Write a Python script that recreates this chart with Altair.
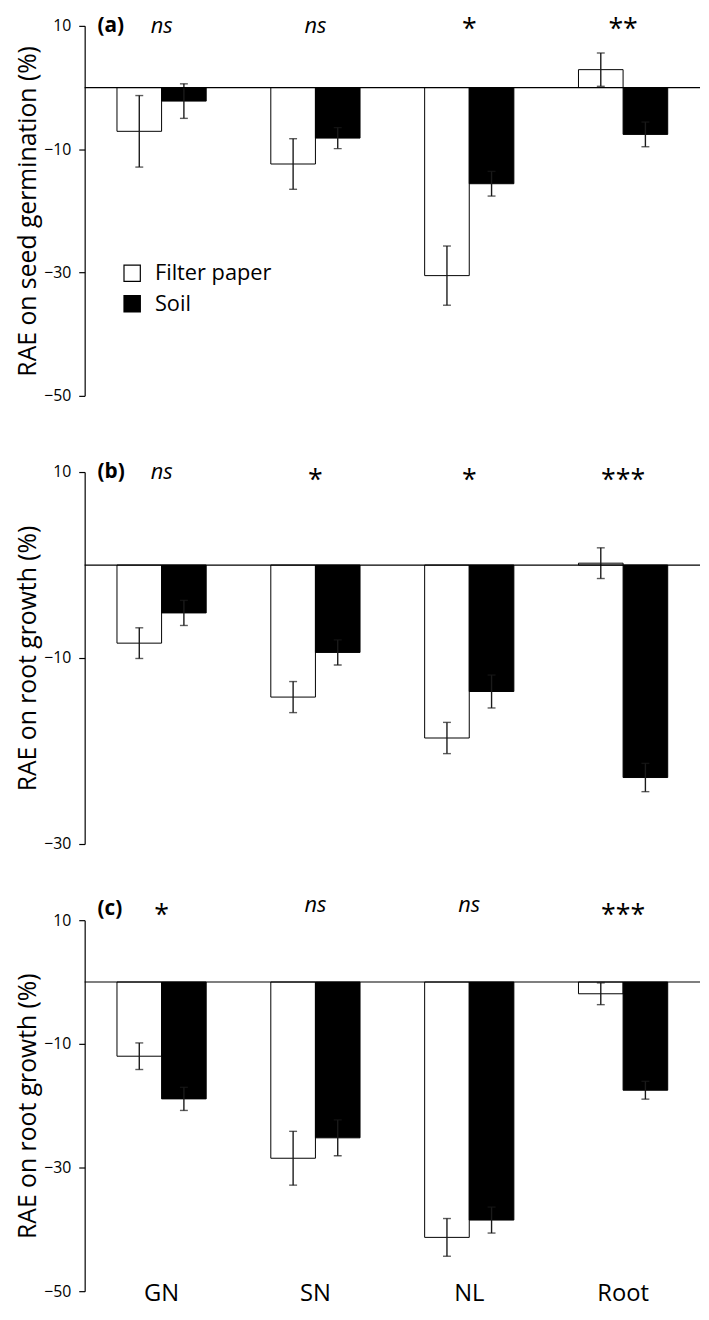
import altair as alt
import pandas as pd

categories = ["GN", "SN", "NL", "Root"]
series = ["Filter paper", "Soil"]

# Panel (a): RAE on seed germination
a_filter = [-7.1, -12.4, -30.5, 2.9]
a_filter_se = [5.8, 4.1, 4.8, 2.7]
a_soil = [-2.2, -8.2, -15.6, -7.6]
a_soil_se = [2.8, 1.7, 2.0, 2.0]
a_sig = ["ns", "ns", "*", "**"]

# Panel (b): RAE on root growth
b_filter = [-8.4, -14.2, -18.6, 0.2]
b_filter_se = [1.65, 1.67, 1.68, 1.65]
b_soil = [-5.15, -9.4, -13.6, -22.85]
b_soil_se = [1.35, 1.35, 1.77, 1.52]
b_sig = ["ns", "*", "*", "***"]

# Panel (c): RAE on root growth
c_filter = [-12.0, -28.5, -41.3, -1.9]
c_filter_se = [2.15, 4.35, 3.05, 1.76]
c_soil = [-18.9, -25.2, -38.5, -17.5]
c_soil_se = [1.87, 2.9, 2.1, 1.44]
c_sig = ["*", "ns", "ns", "***"]

FONT = "Open Sans"


def make_df(f, fse, s, sse):
    rows = []
    for i, c in enumerate(categories):
        rows.append({"cat": c, "series": series[0], "value": f[i],
                     "lo": f[i] - fse[i], "hi": f[i] + fse[i]})
        rows.append({"cat": c, "series": series[1], "value": s[i],
                     "lo": s[i] - sse[i], "hi": s[i] + sse[i]})
    return pd.DataFrame(rows)


def panel(f, fse, s, sse, sig, ymin, yticks, title, letter, height,
          show_legend, dys, show_xlabels):
    letter_dy, ns_dy, star_dy = dys
    df = make_df(f, fse, s, sse)
    sig_df = pd.DataFrame({"cat": categories, "sig": sig})
    x = alt.X("cat:N", sort=categories,
              scale=alt.Scale(paddingInner=0.42, paddingOuter=0.21),
              axis=None)
    xo = alt.XOffset("series:N", sort=series,
                     scale=alt.Scale(paddingInner=0, paddingOuter=0))
    yscale = alt.Scale(domain=[ymin, 10], nice=False)
    yaxis = alt.Axis(values=yticks, title=title, grid=False)

    if show_legend:
        legend = alt.Legend(orient="none", legendX=37, legendY=239,
                            title=None, symbolType="square",
                            symbolSize=272, symbolStrokeColor="black",
                            symbolStrokeWidth=1.2, labelFontSize=22,
                            labelFont=FONT, labelOffset=12, rowPadding=9,
                            padding=0, labelColor="black")
    else:
        legend = None

    base = alt.Chart(df)
    bars = base.mark_bar(stroke="black", strokeWidth=1).encode(
        x=x, xOffset=xo,
        y=alt.Y("value:Q", scale=yscale, axis=yaxis),
        y2=alt.datum(0),
        fill=alt.Fill("series:N", sort=series,
                      scale=alt.Scale(domain=series, range=["white", "black"]),
                      legend=legend),
    )
    zero = alt.Chart(pd.DataFrame({"z": [0]})).mark_rule(
        color="black", strokeWidth=1.2).encode(
        y=alt.Y("z:Q", scale=yscale, axis=yaxis))
    err = base.mark_rule(color="#1a1a1a", strokeWidth=1.4).encode(
        x=x, xOffset=xo,
        y=alt.Y("lo:Q", scale=yscale, axis=yaxis), y2="hi:Q")
    cap_lo = base.mark_tick(color="#1a1a1a", thickness=1.4, size=8).encode(
        x=x, xOffset=xo, y=alt.Y("lo:Q", scale=yscale, axis=yaxis))
    cap_hi = base.mark_tick(color="#1a1a1a", thickness=1.4, size=8).encode(
        x=x, xOffset=xo, y=alt.Y("hi:Q", scale=yscale, axis=yaxis))

    sig_base = alt.Chart(sig_df)
    sig_ns = sig_base.transform_filter(alt.datum.sig == "ns").mark_text(
        font=FONT, fontSize=22, fontStyle="italic", baseline="middle",
        color="black", dy=ns_dy).encode(
        x=x, y=alt.datum(10), text="sig:N")
    sig_star = sig_base.transform_filter(alt.datum.sig != "ns").mark_text(
        font=FONT, fontSize=27, baseline="middle", color="black",
        dy=star_dy).encode(
        x=x, y=alt.datum(10), text="sig:N")
    lab = alt.Chart(pd.DataFrame({"lab": [letter]})).mark_text(
        font=FONT, fontSize=21, fontWeight="bold", align="left",
        baseline="middle", color="black", dy=letter_dy).encode(
        x=alt.value(13), y=alt.datum(10), text="lab:N")

    layers = [bars, err, cap_lo, cap_hi, zero, sig_ns, sig_star, lab]
    if show_xlabels:
        xl = alt.Chart(pd.DataFrame({"cat": categories})).mark_text(
            font=FONT, fontSize=24, baseline="middle", color="black",
            dy=3).encode(
            x=x, y=alt.datum(ymin), text="cat:N")
        layers.append(xl)
    return alt.layer(*layers).properties(width=622, height=height)


pa = panel(a_filter, a_filter_se, a_soil, a_soil_se, a_sig, -50,
           [10, -10, -30, -50], "RAE on seed germination (%)", "(a)", 374,
           True, (0, 0, 4.5), False)
pb = panel(b_filter, b_filter_se, b_soil, b_soil_se, b_sig, -30,
           [10, -10, -30], "RAE on root growth (%)", "(b)", 376,
           False, (0, 0, 9), False)
pc = panel(c_filter, c_filter_se, c_soil, c_soil_se, c_sig, -50,
           [10, -10, -30, -50], "RAE on root growth (%)", "(c)", 375,
           False, (-11, -15, -4), True)

chart = alt.vconcat(pa, pb, pc, spacing=77, bounds="flush").resolve_scale(
    fill="independent"
).configure(
    padding={"top": 0, "left": 7.5, "right": 0, "bottom": 0}
).configure_view(stroke=None).configure_axis(
    labelFont=FONT, labelFontSize=16, labelColor="black",
    titleFont=FONT, titleFontSize=25, titleFontWeight="normal",
    titleColor="black", titlePadding=3, tickColor="black", tickSize=6,
    tickWidth=1.2, domainColor="black", domainWidth=1.2, labelPadding=8,
)

chart.save("out.html", embed_options={"renderer": "svg", "actions": False})
